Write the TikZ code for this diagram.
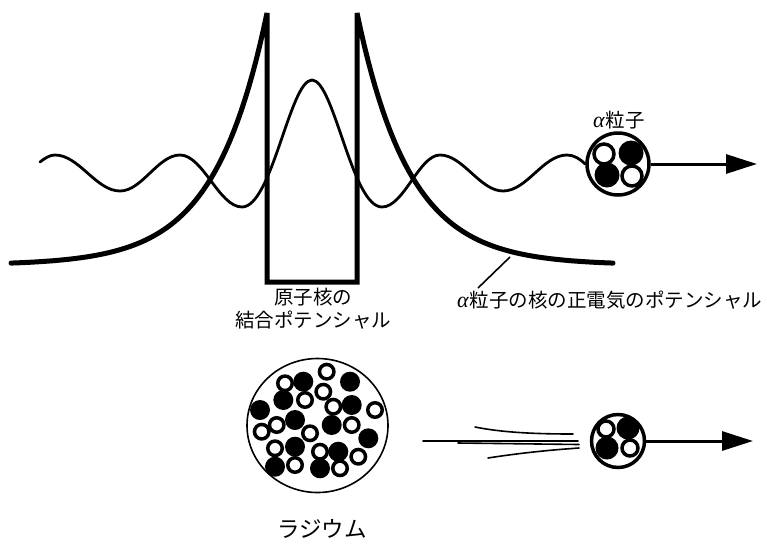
\documentclass[tikz,border=0pt]{standalone}
\usepackage{fontspec}
\newfontfamily\jp{Noto Sans CJK JP}
\newfontfamily\grk{Liberation Serif}
\newcommand{\alphaglyph}{{\grk\itshape\fontsize{22pt}{22pt}\selectfont α}\hspace{1pt}}
\usetikzlibrary{arrows.meta,shapes.geometric,calc}
\begin{document}
\begin{tikzpicture}[x=1pt,y=-1pt,
  thickpot/.style={line width=5pt, line cap=round, miter limit=2},
  wave/.style={line width=2.8pt, line cap=round},
  alphashell/.style={circle, draw, line width=3.5pt, inner sep=0pt, minimum size=#1},
  nucshell/.style={ellipse, draw, line width=1.6pt, inner sep=0pt,
    minimum width=141pt, minimum height=134pt},
  proton/.style={circle, fill=black, inner sep=0pt, minimum size=#1},
  neutron/.style={circle, draw, fill=white, line width=3.5pt, inner sep=0pt, minimum size=#1},
  motion/.style={line width=3pt, -{Triangle[length=31pt,width=19pt]}},
  streak/.style={line width=1.6pt, line cap=round},
  leader/.style={line width=1.6pt},
  jplabel/.style={font=\jp\fontsize{19.5pt}{23pt}\selectfont, inner sep=0pt, align=center}
]
\useasboundingbox (0,0) rectangle (767,544);

% --- potential: Coulomb tails joined to the square well of the nucleus
\draw[thickpot]
  plot[domain=11:267, samples=70] (\x, {265-252*exp(-(267-\x)/52.5)})
  -- (267,282) -- (357,282)
  -- plot[domain=357:613, samples=70] (\x, {265-252*exp(-(\x-357)/52.5)});

% --- alpha particle leaving the nucleus (top)
\node[alphashell=62pt] (atop) at (618,164) {};
\node[proton=25pt]  (atopP1) at ($(618,164)+(13,-11)$) {};
\node[proton=25pt]  (atopP2) at ($(618,164)+(-11,11)$) {};
\node[neutron=20pt] (atopN1) at ($(618,164)+(-14,-10)$) {};
\node[neutron=20pt] (atopN2) at ($(618,164)+(14,12)$) {};
\coordinate (atip) at (757,164);
\draw[motion] (atop.east) -- (atip);
\node[jplabel] (alab) at (619,120) {\alphaglyph 粒子};

% --- wave function of the alpha particle
\draw[wave] (40,162) .. controls (45,158) and (50,155) .. (55,155)
  .. controls (79,155) and (96,191) .. (120,191)
  .. controls (142,191) and (158,155) .. (180,155)
  .. controls (203,155) and (219,207) .. (242,207)
  .. controls (272,207) and (290,80) .. (312,80)
  .. controls (334,80) and (352,207) .. (382,207)
  .. controls (404,207) and (419,155) .. (440,155)
  .. controls (463,155) and (480,191) .. (503,191)
  .. controls (527,191) and (543,155) .. (567,155)
  .. controls (574,155) and (580,159) .. (atop.west);

% --- labels of the two potentials
\node[jplabel] (nuclab) at (313,308.5) {原子核の\\結合ポテンシャル};
\node[jplabel, anchor=west] (potlab) at (457,300) {\alphaglyph 粒子の核の正電気のポテンシャル};
\coordinate (lead) at (510,257);
\coordinate (leadend) at (478,288);
\draw[leader] (lead) -- (leadend);

% --- radium nucleus
\node[nucshell] (radium) at (317.5,425.5) {};
\foreach \p [count=\i] in {(303.3,381.7),(350,381.7),(283.3,400),(260,410),
    (295,420),(331.7,425),(351.7,405),(368.3,438.3),(295,446.7),(338.3,451.7),
    (275,466.7),(320,468.3)}
  \node[proton=20pt] (rp\i) at \p {};
\foreach \p [count=\i] in {(285,383.3),(326.7,371.7),(305,400),(323.3,391.7),
    (333.3,406.7),(375,410),(276.7,425),(261.7,431.7),(310,433.3),(351.7,425),
    (275,448.3),(320,451.7),(358.3,456.7),(295,465),(340,468.3)}
  \node[neutron=14.5pt] (rn\i) at \p {};
\node[jplabel, font=\jp\fontsize{22.5pt}{24pt}\selectfont] (ralab) at (322,529) {ラジウム};

% --- emitted alpha particle (bottom) with speed streaks
\draw[streak] (423,441) -- (578,441);
\draw[streak] (458,443) -- (579,444.5);
\draw[streak] (475,427) .. controls (500,432) and (530,434) .. (573,434);
\draw[streak] (488,458) .. controls (520,453) and (550,450) .. (579,448);
\node[alphashell=53pt] (abot) at (618,441) {};
\node[proton=23pt]  (abotP1) at ($(618,441)+(10,-13)$) {};
\node[proton=23pt]  (abotP2) at ($(618,441)+(-11,7)$) {};
\node[neutron=16pt] (abotN1) at ($(618,441)+(-12,-12)$) {};
\node[neutron=16pt] (abotN2) at ($(618,441)+(12,7)$) {};
\coordinate (btip) at (753,441);
\draw[motion] (abot.east) -- (btip);
\end{tikzpicture}
\end{document}
